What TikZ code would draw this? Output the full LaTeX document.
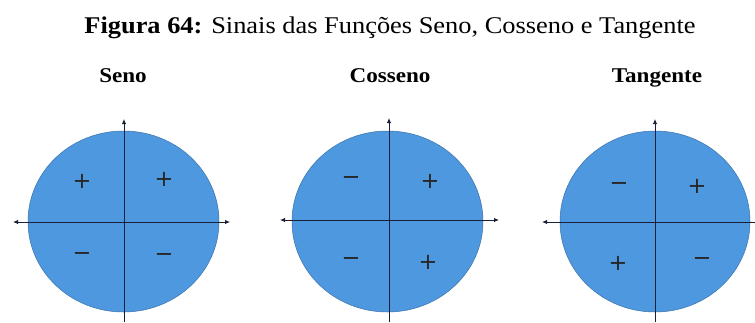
\documentclass[tikz,border=0pt]{standalone}
\usepackage{fontspec}
\setmainfont{Liberation Serif}
\newfontfamily\signfont{DejaVu Sans}
\usetikzlibrary{arrows.meta}
\definecolor{discblue}{HTML}{4E98E0}
\definecolor{axiscol}{HTML}{1A1F3A}
\begin{document}
\begin{tikzpicture}[x=1pt,y=-1pt,
  disc/.style={fill=discblue, draw=discblue!75!black, line width=0.5pt},
  axisline/.style={draw=axiscol, line width=0.9pt},
  tipend/.style={-{Latex[length=5pt,width=4.5pt]}},
  tipboth/.style={{Latex[length=5pt,width=4.5pt]}-{Latex[length=5pt,width=4.5pt]}},
  sign/.style={font=\signfont\fontsize{22.5}{22.5}\selectfont, inner sep=0pt, text=black!85},
  ttl/.style={font=\fontsize{24}{24}\selectfont, inner sep=0pt, anchor=base, xscale=1.1, transform shape},
  sub/.style={font=\bfseries\fontsize{21}{21}\selectfont, inner sep=0pt, anchor=base, xscale=1.1, transform shape}]
\useasboundingbox (0,0) rectangle (755,322);
\fill[white] (0,0) rectangle (755,322);
\node[ttl] (title) at (390,33) {\textbf{Figura 64:} Sinais das Funções Seno, Cosseno e Tangente};
\node[sub] (s1) at (123,82) {Seno};
\node[sub] (s2) at (390,82) {Cosseno};
\node[sub] (s3) at (657,82) {Tangente};
% discs
\path[disc] (123.5,221.5) ellipse [x radius=95.5, y radius=90.5];
\path[disc] (387.5,221.5) ellipse [x radius=95.5, y radius=90.5];
\path[disc] (655,221.5) ellipse [x radius=95, y radius=90.5];
% axes
\coordinate (a1t) at (124,119); \coordinate (a1b) at (124,322);
\coordinate (a1l) at (13,222); \coordinate (a1r) at (230,222);
\coordinate (a2t) at (389,118); \coordinate (a2b) at (389,322);
\coordinate (a2l) at (280,220); \coordinate (a2r) at (499,220);
\coordinate (a3t) at (655,119); \coordinate (a3b) at (655,322);
\coordinate (a3l) at (542,222); \coordinate (a3r) at (755,222);
\draw[axisline,tipend] (a1b) -- (a1t);
\draw[axisline,tipboth] (a1l) -- (a1r);
\draw[axisline,tipend] (a2b) -- (a2t);
\draw[axisline,tipboth] (a2l) -- (a2r);
\draw[axisline,tipend] (a3b) -- (a3t);
\draw[axisline,tipend] (a3r) -- (a3l);
% signs
\node[sign] (p11) at (82,181) {+};
\node[sign] (p12) at (164,179) {+};
\node[sign] (p13) at (82,257) {−};
\node[sign] (p14) at (164,258) {−};
\node[sign] (p21) at (351,181) {−};
\node[sign] (p22) at (430,181) {+};
\node[sign] (p23) at (351,262) {−};
\node[sign] (p24) at (428,262) {+};
\node[sign] (p31) at (619,187) {−};
\node[sign] (p32) at (697,186) {+};
\node[sign] (p33) at (618,263) {+};
\node[sign] (p34) at (702,262) {−};
\end{tikzpicture}
\end{document}
